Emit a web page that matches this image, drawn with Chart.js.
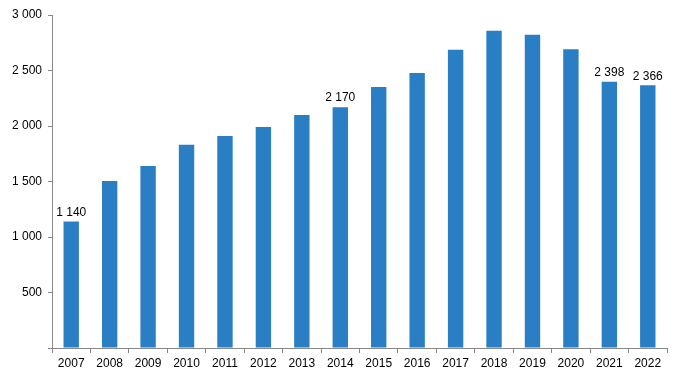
<!DOCTYPE html>
<html>
<head>
<meta charset="utf-8">
<script src="https://cdn.jsdelivr.net/npm/chart.js@4/dist/chart.umd.min.js"></script>
<style>
html,body{margin:0;padding:0;background:#fff;}
#wrap{width:678px;height:382px;position:relative;}
</style>
</head>
<body>
<div id="wrap"><canvas id="c" width="678" height="382"></canvas></div>
<script>
const years = ['2007','2008','2009','2010','2011','2012','2013','2014','2015','2016','2017','2018','2019','2020','2021','2022'];
const values = [1140,1505,1640,1832,1910,1991,2099,2170,2352,2478,2686,2858,2822,2692,2398,2366];
const labelledYears = ['2007','2014','2021','2022'];
const yTicks = [0,500,1000,1500,2000,2500,3000];

function fmt(v){ return String(v).replace(/\B(?=(\d{3})+(?!\d))/g,' '); }

const labelPlugin = {
  id:'labels',
  afterDatasetsDraw(chart){
    const ctx = chart.ctx;
    const meta = chart.getDatasetMeta(0);
    ctx.save();
    ctx.font = '12px "Liberation Sans", Arial, sans-serif';
    ctx.fillStyle = '#000';
    ctx.textAlign = 'center';
    ctx.textBaseline = 'bottom';
    meta.data.forEach((bar,i)=>{
      if(labelledYears.includes(years[i])){
        ctx.fillText(fmt(values[i]), bar.x, bar.y - 3);
      }
    });
    ctx.restore();
  }
};

Chart.defaults.font.family = '"Liberation Sans", Arial, sans-serif';
Chart.defaults.font.size = 12;
Chart.defaults.color = '#000';

new Chart(document.getElementById('c'), {
  type:'bar',
  data:{
    labels: years,
    datasets:[{
      data: values,
      backgroundColor:'#2a7ec4',
      barPercentage:0.4,
      categoryPercentage:1.0
    }]
  },
  options:{
    responsive:false,
    animation:false,
    layout:{padding:{top:15,right:11,left:0,bottom:0}},
    plugins:{legend:{display:false},tooltip:{enabled:false}},
    scales:{
      x:{
        grid:{display:true,drawOnChartArea:false,offset:true,tickLength:5,color:'#888'},
        border:{color:'#888'},
        ticks:{padding:3,color:'#000',maxRotation:0,autoSkip:false},
        afterFit(s){ s.height = 34; }
      },
      y:{
        min:0,max:3000,
        afterBuildTicks(s){ s.ticks = yTicks.map(v=>({value:v})); },
        grid:{display:true,drawOnChartArea:false,tickLength:4,color:'#888'},
        border:{color:'#888'},
        ticks:{padding:6,color:'#000',callback:(v)=> v===0 ? '' : fmt(v)},
        afterFit(s){ s.width = 52; }
      }
    }
  },
  plugins:[labelPlugin]
});
</script>
</body>
</html>
